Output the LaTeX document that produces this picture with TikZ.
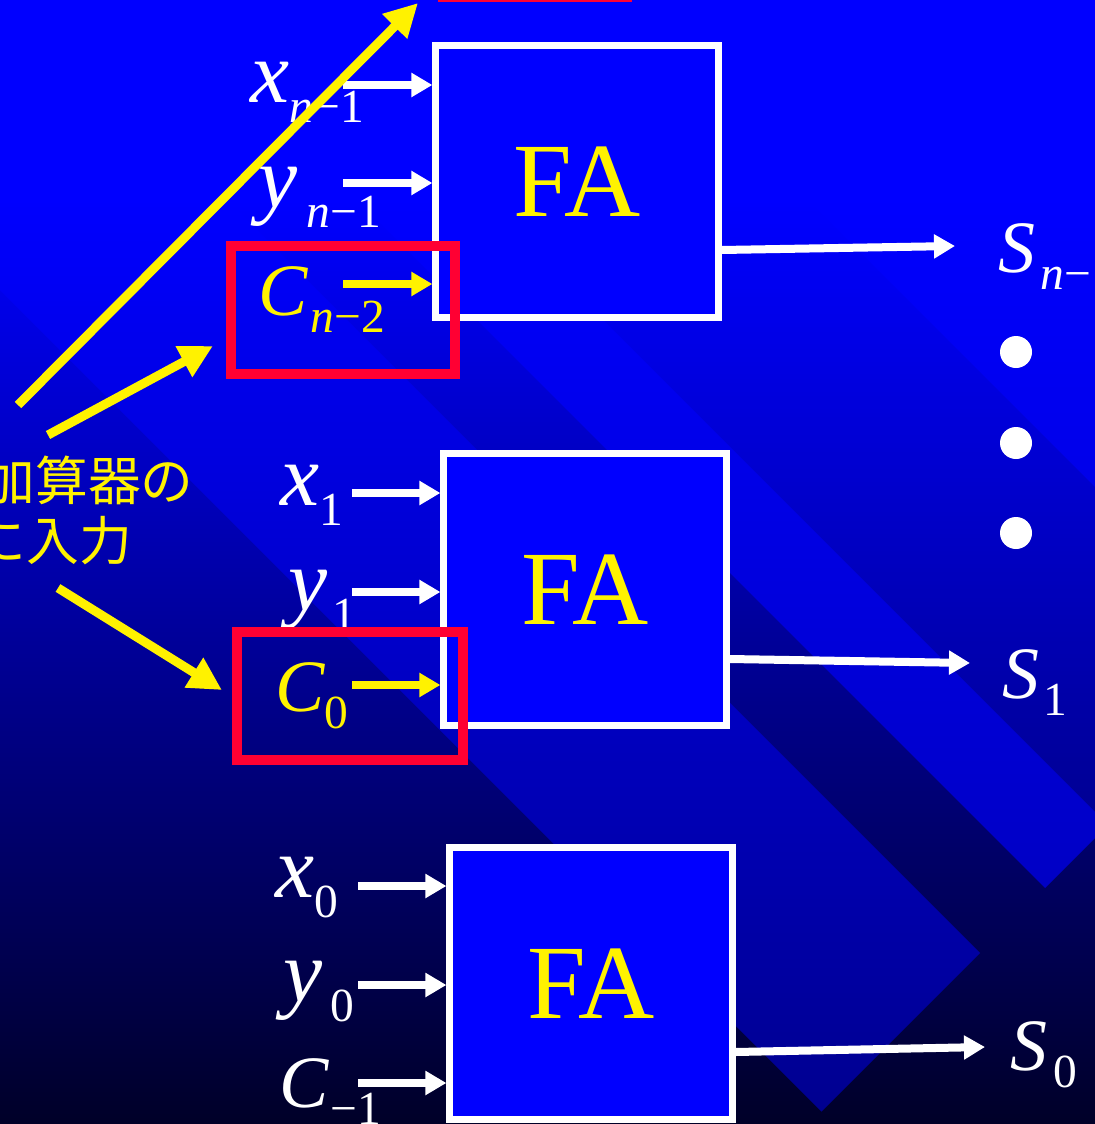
\documentclass[tikz,border=0pt]{standalone}
\usepackage{fontspec}
\setmainfont{Liberation Serif}
\newfontfamily\cjk{Noto Sans CJK JP}
\usetikzlibrary{arrows.meta}
\definecolor{pureblue}{RGB}{0,0,255}
\definecolor{nightblue}{RGB}{0,0,40}
\definecolor{alarmred}{RGB}{255,0,51}
% variable con subindice (x, y) y (C, S)
\newcommand{\bigvar}[3][0pt]{{\fontsize{25}{25}\selectfont\itshape #2}\kern#1\raisebox{-0.2cm}{\fontsize{13.5}{13.5}\selectfont #3}}
\newcommand{\capvar}[3][0pt]{{\fontsize{21}{21}\selectfont\itshape #2}\kern#1\raisebox{-0.17cm}{\fontsize{13.5}{13.5}\selectfont #3}}
% banda diagonal del fondo
\newcommand{\ribbon}[3]{\fill[#3] ({(#1+1933)/2},{(1933-(#1))/2}) -- ({(#2+1933)/2},{(1933-(#2))/2})
  -- ({(#2-1000)/2},{(-1000-(#2))/2}) -- ({(#1-1000)/2},{(-1000-(#1))/2}) -- cycle;}

\begin{document}
\begin{tikzpicture}[x=0.01cm, y=-0.01cm,
    fabox/.style={draw=white, fill=pureblue, line width=0.07cm, minimum width=2.82cm, minimum height=2.72cm, text=yellow, font=\fontsize{30}{30}\selectfont},
    hilite/.style={draw=alarmred, line width=0.1cm, minimum width=2.24cm, minimum height=1.27cm},
    wire/.style={white, line width=0.08cm, -{Triangle[length=0.21cm, width=0.23cm]}},
    pointer/.style={yellow, line width=0.09cm, -{Triangle[length=0.33cm, width=0.33cm]}},
    varlab/.style={anchor=base west, inner sep=0pt, text=white},
    note/.style={anchor=base west, inner sep=0pt, text=yellow, font=\cjk\fontsize{15}{15}\selectfont}]
        % Fondo
        \useasboundingbox (0,0) rectangle (1095,1124);
        \clip (0,0) rectangle (1095,1124);
        \fill[pureblue] (0,0) rectangle (1095,200);
        \shade[top color=pureblue, bottom color=nightblue] (0,200) rectangle (1095,1124);
        \ribbon{608}{3000}{pureblue, opacity=0.68}
        \ribbon{283}{608}{pureblue, opacity=0.25}
        \ribbon{157}{283}{pureblue, opacity=0.64}
        \ribbon{-290}{27}{pureblue, opacity=0.48}

        % Sumadores completos
        \node[fabox] (fan) at (577,181.5) {FA};
        \node[fabox] (fa1) at (585,589.5) {FA};
        \node[fabox] (fa0) at (591,983.5) {FA};

        % Entradas
        \foreach \fa/\xt/\y/\col in {fan/343/85/white, fan/343/183/white, fan/343/284/yellow,
                                     fa1/352/493/white, fa1/352/592/white, fa1/352/685/yellow,
                                     fa0/358/886/white, fa0/358/985/white, fa0/358/1083/white} {
            \coordinate (tail) at (\xt,\y);
            \draw[wire, \col] (tail) -- (tail -| \fa.west);
        }

        % Salidas
        \foreach \fa/\yo/\xs/\ys in {fan/250/955/246, fa1/659/970/663, fa0/1052/985/1047} {
            \coordinate (sout) at (\xs,\ys);
            \draw[wire] (\fa.east |- 0,\yo) -- (sout);
        }
        \foreach \y in {352, 443, 533} {
            \fill[white] (1016,\y) circle[radius=16];
        }

        % Etiquetas
        \node[varlab] (lxn) at (250,102) {\bigvar{x}{\textit{n}−1}};
        \node[varlab] (lyn) at (258,207) {\bigvar[0.09cm]{y}{\textit{n}−1}};
        \node[varlab, text=yellow] (lcn) at (258,315) {\capvar[0.03cm]{C}{\textit{n}−2}};
        \node[varlab] (lx1) at (280,505) {\bigvar{x}{1}};
        \node[varlab] (ly1) at (288,610) {\bigvar[0.05cm]{y}{1}};
        \node[varlab, text=yellow] (lc0) at (275,711) {\capvar{C}{0}};
        \node[varlab] (lx0) at (275,897) {\bigvar{x}{0}};
        \node[varlab] (ly0) at (283,1001) {\bigvar[0.08cm]{y}{0}};
        \node[varlab] (lcm) at (279,1107) {\capvar[0.02cm]{C}{−1}};
        \node[varlab] (lsn) at (998,272) {\capvar[0.05cm]{S}{\textit{n}−1}};
        \node[varlab] (ls1) at (1002,698) {\capvar[0.04cm]{S}{1}};
        \node[varlab] (ls0) at (1010,1070) {\capvar[0.06cm]{S}{0}};

        % Marcos rojos
        \node[hilite, minimum width=1.84cm, minimum height=1.34cm] (hlt) at (535,-70) {};
        \node[hilite] (hln) at (343,310) {};
        \node[hilite, minimum width=2.26cm, minimum height=1.28cm] (hl1) at (350,696) {};

        % Flechas amarillas
        \node[note] (notea) at (-18,500) {加算器の};
        \node[note] (noteb) at (-27,560) {に入力};
        \coordinate (t1) at (18,405);
        \coordinate (t2) at (48,435);
        \coordinate (t3) at (58,588);
        \draw[pointer] (t1) -- ([shift={(-20,1)}]hlt.south west);
        \draw[pointer] (t2) -- ([shift={(-13,36)}]hln.west);
        \draw[pointer] (t3) -- ([shift={(-10,-6)}]hl1.west);
    \end{tikzpicture}
\end{document}
